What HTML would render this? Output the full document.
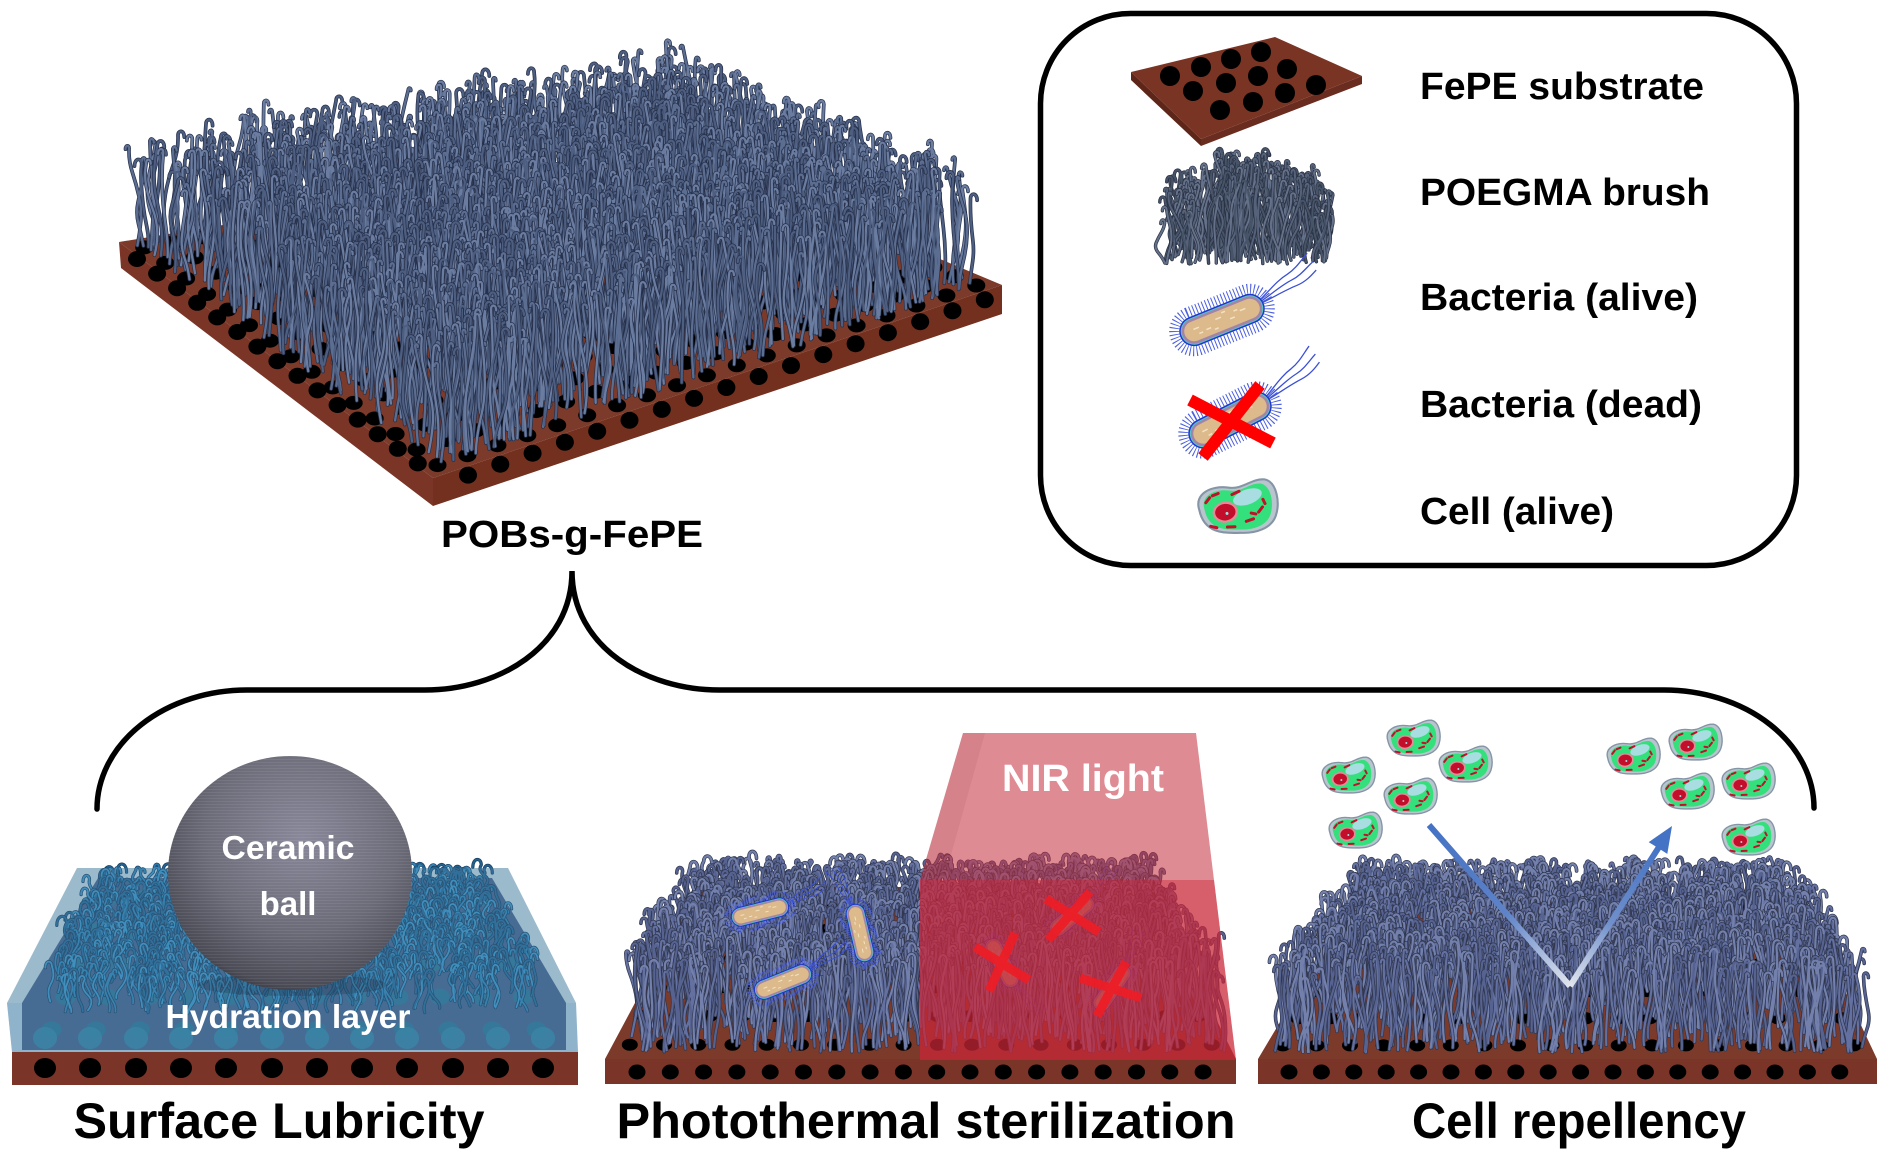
<!DOCTYPE html>
<html><head><meta charset="utf-8"><title>POBs-g-FePE</title>
<style>
html,body{margin:0;padding:0;background:#fff;width:1883px;height:1156px;overflow:hidden;}
svg{display:block;}
.t{font-family:"Liberation Sans",Arial,sans-serif;font-weight:bold;}
</style></head><body>
<svg id="S" width="1883" height="1156" viewBox="0 0 1883 1156" xmlns="http://www.w3.org/2000/svg">
<defs>
 <radialGradient id="ballG" cx="0.55" cy="0.35" r="0.72">
  <stop offset="0" stop-color="#88889a"/>
  <stop offset="0.55" stop-color="#6c6c79"/>
  <stop offset="0.88" stop-color="#4c4c57"/>
  <stop offset="1" stop-color="#26262d"/>
 </radialGradient>
 <pattern id="streak" width="9" height="3" patternUnits="userSpaceOnUse">
  <rect x="0" y="0" width="9" height="1" fill="#ffffff" opacity="0.07"/>
 </pattern>
 <linearGradient id="arL" gradientUnits="userSpaceOnUse" x1="1429" y1="825" x2="1570" y2="986">
  <stop offset="0" stop-color="#4472c4"/><stop offset="0.55" stop-color="#5e83c8"/><stop offset="1" stop-color="#e2e6ee"/>
 </linearGradient>
 <linearGradient id="arR" gradientUnits="userSpaceOnUse" x1="1570" y1="986" x2="1660" y2="846">
  <stop offset="0" stop-color="#e2e6ee"/><stop offset="0.45" stop-color="#7090cb"/><stop offset="1" stop-color="#4472c4"/>
 </linearGradient>
 <g id="bac">
  <path d="M44,-5 C56,-10 66,-16 78,-18 C88,-20 96,-26 104,-30 M44,-3 C58,-6 68,-10 80,-11 C90,-12 98,-17 106,-20 M44,-1 C58,-2 70,-4 82,-4 C92,-4 100,-8 106,-11" fill="none" stroke="#3a4fd6" stroke-width="1.3"/>
  <rect x="-50" y="-20" width="100" height="40" rx="20" fill="none" stroke="#4b5fe0" stroke-width="10" stroke-dasharray="1 2.4"/>
  <rect x="-45" y="-15" width="90" height="30" rx="15" fill="#1d38c9"/>
  <rect x="-43.5" y="-13.5" width="87" height="27" rx="13.5" fill="#56c6c6"/>
  <rect x="-42.5" y="-12.5" width="85" height="25" rx="12.5" fill="#a184a8"/>
  <rect x="-40" y="-10" width="80" height="20" rx="10" fill="#dcba8c"/>
  <path d="M-30,-2 h6 M-18,3 h5 M-6,-3 h6 M8,2 h5 M20,-2 h6 M-26,4 h4 M14,-4 h4 M-10,6 h4 M2,-7 h4" stroke="#f3e2c2" stroke-width="1.5"/>
 </g>
 <g id="cell">
  <path d="M-25,-3 C-27,-14 -15,-18 -4,-15 C6,-12 12,-19 21,-17 C29,-14 29,0 25,8 C21,16 10,18 0,16 C-11,15 -24,13 -25,-3Z" fill="#b9c5ce" stroke="#8595a6" stroke-width="1.4"/>
  <path d="M-25,-3 C-27,-14 -15,-18 -4,-15 C6,-12 12,-19 21,-17 C29,-14 29,0 25,8 C21,16 10,18 0,16 C-11,15 -24,13 -25,-3Z" transform="scale(0.86)" fill="#34e07c"/>
  <ellipse cx="8" cy="-7" rx="10" ry="5" fill="#a8dde2" transform="rotate(-12 8 -7)"/>
  <ellipse cx="-8" cy="1" rx="8.5" ry="7" fill="#e48a99"/>
  <ellipse cx="-8" cy="1" rx="6.8" ry="5.5" fill="#c20e2b"/>
  <circle cx="-7" cy="2" r="1" fill="#9adfe6"/>
  <path d="M-19,9 l4,1.5 M-8,11 l5,0.5 M5,9 l5,-1 M14,4 l3,-3 M18,-4 l1,3 M-20,-7 l3,-3 M-2,-10 l5,-1.5 M9,4 l3,1 M-15,-11 l4,-1" stroke="#c0102a" stroke-width="2" stroke-linecap="round" fill="none"/>
 </g>
</defs>

<!-- ============ TOP 3D SUBSTRATE ============ -->
<polygon points="119,242 680,150 1002,285 433,478" fill="#7b3a2a"/>
<polygon points="119,242 433,478 433,506 121,268" fill="#7a3527"/>
<polygon points="433,478 1002,285 1002,314 433,506" fill="#73301f"/>
<g id="topDots"></g>
<polygon class="fb" points="121,250 121,145 300,113 500,80 640,48 800,100 1002,168 1002,285 433,470" fill="#56678a"/>
<g id="topBrush"></g>

<text class="t" x="572" y="547" font-size="38" text-anchor="middle" textLength="262" lengthAdjust="spacingAndGlyphs" fill="#000">POBs-g-FePE</text>

<!-- bracket -->
<path d="M97,809 A150,119 0 0 1 247,690 L425,690 C497,690 572,648 572,571 C572,648 647,690 719,690 L1664,690 A150,118 0 0 1 1814,808" fill="none" stroke="#000" stroke-width="5.5" stroke-linecap="round"/>

<!-- ============ LEGEND ============ -->
<rect x="1040.5" y="13.5" width="756" height="552" rx="90" ry="90" fill="none" stroke="#000" stroke-width="5.5"/>
<polygon points="1131,72 1201,139 1201,146 1131,80" fill="#5e2519"/>
<polygon points="1201,139 1362,76 1362,84 1201,146" fill="#6a2c1f"/>
<polygon points="1131,72 1275,37 1362,76 1201,139" fill="#7a3424"/>
<g fill="#000">
 <circle cx="1170" cy="76" r="10"/><circle cx="1201" cy="67" r="10"/><circle cx="1231" cy="59" r="10"/><circle cx="1261" cy="52" r="10"/>
 <circle cx="1193" cy="91" r="10"/><circle cx="1226" cy="83" r="10"/><circle cx="1258" cy="76" r="10"/><circle cx="1287" cy="69" r="10"/>
 <circle cx="1220" cy="110" r="10"/><circle cx="1253" cy="102" r="10"/><circle cx="1285" cy="93" r="10"/><circle cx="1316" cy="85" r="10"/>
</g>
<polygon class="fb" points="1165,262 1168,180 1230,156 1300,160 1330,180 1330,262" fill="#4f5c72"/>
<g id="legBrush"></g>
<use href="#bac" transform="translate(1222,320) rotate(-22)"/>
<use href="#bac" transform="translate(1230,420) rotate(-27)"/>
<path d="M1190,400 L1273,443 M1260,385 L1203,457" stroke="#ff0000" stroke-width="12" fill="none"/>
<use href="#cell" transform="translate(1237,509) scale(1.5) rotate(-8)"/>

<text class="t" x="1420" y="99" font-size="38" textLength="284" lengthAdjust="spacingAndGlyphs">FePE substrate</text>
<text class="t" x="1420" y="205" font-size="38" textLength="290" lengthAdjust="spacingAndGlyphs">POEGMA brush</text>
<text class="t" x="1420" y="310" font-size="38" textLength="278" lengthAdjust="spacingAndGlyphs">Bacteria (alive)</text>
<text class="t" x="1420" y="417" font-size="38" textLength="282" lengthAdjust="spacingAndGlyphs">Bacteria (dead)</text>
<text class="t" x="1420" y="524" font-size="38" textLength="194" lengthAdjust="spacingAndGlyphs">Cell (alive)</text>

<!-- ============ PANEL 1: SURFACE LUBRICITY ============ -->
<polygon points="77,868 508,868 576,1003 7,1003" fill="#a7c0ce"/>
<polygon points="7,1003 576,1003 578,1052 12,1052" fill="#98b6ca"/>
<polygon points="98,878 492,878 566,1003 566,1050 22,1050 22,1003" fill="#3e5d86"/>
<g id="waterDots"></g>
<g fill="#2f7a9c" opacity="0.9">
 <ellipse cx="45" cy="1038" rx="12" ry="11"/><ellipse cx="90" cy="1038" rx="12" ry="11"/><ellipse cx="136" cy="1038" rx="12" ry="11"/><ellipse cx="181" cy="1038" rx="12" ry="11"/>
 <ellipse cx="226" cy="1038" rx="12" ry="11"/><ellipse cx="272" cy="1038" rx="12" ry="11"/><ellipse cx="317" cy="1038" rx="12" ry="11"/><ellipse cx="362" cy="1038" rx="12" ry="11"/>
 <ellipse cx="407" cy="1038" rx="12" ry="11"/><ellipse cx="453" cy="1038" rx="12" ry="11"/><ellipse cx="498" cy="1038" rx="12" ry="11"/><ellipse cx="543" cy="1038" rx="12" ry="11"/>
</g>
<polygon class="fb" points="98,878 492,878 566,1003 566,1030 22,1030 22,1003" fill="#2f6690"/>
<g id="waterBrush"></g>
<polygon points="77,868 508,868 576,1003 578,1052 12,1052 7,1003" fill="#6eaacd" opacity="0.2"/>
<rect x="12" y="1052" width="566" height="33" fill="#7a3428"/>
<g fill="#000">
 <ellipse cx="45" cy="1068" rx="11" ry="10"/><ellipse cx="90" cy="1068" rx="11" ry="10"/><ellipse cx="136" cy="1068" rx="11" ry="10"/><ellipse cx="181" cy="1068" rx="11" ry="10"/>
 <ellipse cx="226" cy="1068" rx="11" ry="10"/><ellipse cx="272" cy="1068" rx="11" ry="10"/><ellipse cx="317" cy="1068" rx="11" ry="10"/><ellipse cx="362" cy="1068" rx="11" ry="10"/>
 <ellipse cx="407" cy="1068" rx="11" ry="10"/><ellipse cx="453" cy="1068" rx="11" ry="10"/><ellipse cx="498" cy="1068" rx="11" ry="10"/><ellipse cx="543" cy="1068" rx="11" ry="10"/>
</g>
<ellipse cx="292" cy="985" rx="95" ry="11" fill="#1a2a40" opacity="0.25"/>
<ellipse cx="290" cy="873" rx="122" ry="117" fill="url(#ballG)"/>
<ellipse cx="290" cy="873" rx="122" ry="117" fill="url(#streak)"/>
<text class="t" x="288" y="859" font-size="33" text-anchor="middle" textLength="133" lengthAdjust="spacingAndGlyphs" fill="#fff">Ceramic</text>
<text class="t" x="288" y="915" font-size="33" text-anchor="middle" fill="#fff">ball</text>
<text class="t" x="288" y="1028" font-size="33" text-anchor="middle" textLength="245" lengthAdjust="spacingAndGlyphs" fill="#fff">Hydration layer</text>

<!-- ============ PANEL 2: PHOTOTHERMAL ============ -->
<polygon points="697,887 1150,887 1236,1059 605,1059" fill="#7b3a2a"/>
<g id="p2Dots"></g>
<rect x="605" y="1059" width="631" height="25" fill="#7a3428"/>
<g id="p2Strip"></g>
<polygon class="fb" points="606,1058 684,860 1170,856 1236,1058" fill="#5e6a92"/>
<g id="p2Brush"></g>
<use href="#bac" transform="translate(760,912) rotate(-14) scale(0.66)"/>
<use href="#bac" transform="translate(860,933) rotate(-103) scale(0.66)"/>
<use href="#bac" transform="translate(783,982) rotate(-22) scale(0.68)"/>
<g opacity="0.75">
 <use href="#bac" transform="translate(1002,963) rotate(62) scale(0.6)"/>
 <use href="#bac" transform="translate(1072,916) rotate(-40) scale(0.6)"/>
 <use href="#bac" transform="translate(1112,988) rotate(-55) scale(0.6)"/>
</g>
<polygon points="920,880 1214,880 1236,1060 920,1060" fill="#d7162d" opacity="0.42"/>
<polygon points="963,733 1196,733 1236,1060 920,1060 920,880" fill="#c42c3c" opacity="0.55"/>
<polygon points="963,733 985,733 944,880 920,880" fill="#78141e" opacity="0.08"/>
<path d="M975,947 L1029,980 M1015,933 L989,991 M1046,899 L1099,932 M1090,892 L1048,940 M1080,978 L1141,998 M1126,962 L1097,1016" stroke="#ee1c25" stroke-width="9" fill="none" opacity="0.92"/>
<text class="t" x="1002" y="791" font-size="38" textLength="162" lengthAdjust="spacingAndGlyphs" fill="#fff">NIR light</text>

<!-- ============ PANEL 3: CELL REPELLENCY ============ -->
<polygon points="1355,896 1800,896 1877,1059 1258,1059" fill="#7b3a2a"/>
<g id="p3Dots"></g>
<rect x="1258" y="1059" width="619" height="25" fill="#7a3428"/>
<g id="p3Strip"></g>
<polygon class="fb" points="1260,1059 1328,866 1810,863 1877,1059" fill="#5e6a92"/>
<g id="p3Brush"></g>
<use href="#cell" transform="translate(1413,740) rotate(-8)"/>
<use href="#cell" transform="translate(1348,777) rotate(-8)"/>
<use href="#cell" transform="translate(1465,766) rotate(-8)"/>
<use href="#cell" transform="translate(1410,798) rotate(-8)"/>
<use href="#cell" transform="translate(1355,832) rotate(-8)"/>
<use href="#cell" transform="translate(1633,758) rotate(-8)"/>
<use href="#cell" transform="translate(1695,744) rotate(-8)"/>
<use href="#cell" transform="translate(1687,793) rotate(-8)"/>
<use href="#cell" transform="translate(1748,783) rotate(-8)"/>
<use href="#cell" transform="translate(1748,839) rotate(-8)"/>
<line x1="1429" y1="825" x2="1570" y2="986" stroke="url(#arL)" stroke-width="6"/>
<line x1="1570" y1="986" x2="1659" y2="847" stroke="url(#arR)" stroke-width="6"/>
<polygon points="1672,826 1667.3,853.9 1648.7,842.1" fill="#4472c4"/>

<!-- bottom labels -->
<text class="t" x="279" y="1138" font-size="50" text-anchor="middle" textLength="411" lengthAdjust="spacingAndGlyphs">Surface Lubricity</text>
<text class="t" x="926" y="1138" font-size="50" text-anchor="middle" textLength="619" lengthAdjust="spacingAndGlyphs">Photothermal sterilization</text>
<text class="t" x="1579" y="1138" font-size="50" text-anchor="middle" textLength="334" lengthAdjust="spacingAndGlyphs">Cell repellency</text>
</svg>
<script>
(function(){
var NS='http://www.w3.org/2000/svg';
function R(seed){var s=seed>>>0;return function(){s=(Math.imul(s,1664525)+1013904223)>>>0;return s/4294967296;};}
function qp(q,u,v){return [(1-u)*(1-v)*q[0][0]+u*(1-v)*q[1][0]+u*v*q[2][0]+(1-u)*v*q[3][0],(1-u)*(1-v)*q[0][1]+u*(1-v)*q[1][1]+u*v*q[2][1]+(1-u)*v*q[3][1]];}
function el(tag,a,p){var e=document.createElementNS(NS,tag);for(var k in a)e.setAttribute(k,a[k]);p.appendChild(e);return e;}
function f(n){return n.toFixed(1);}
function ell(x,y,rx,ry){return 'M'+f(x-rx)+','+f(y)+'a'+rx+','+ry+' 0 1,0 '+(2*rx)+',0a'+rx+','+ry+' 0 1,0 '+(-2*rx)+',0Z';}
function grid(gid,q,nu,nv,rx,ry,fill,op){var g=document.getElementById(gid);var d='';for(var i=0;i<nu;i++)for(var j=0;j<nv;j++){var p=qp(q,(i+.5)/nu,(j+.5)/nv);d+=ell(p[0],p[1],rx,ry);}el('path',{d:d,fill:fill||'#000',opacity:op||1},g);}
function row(gid,x0,y0,dx,dy,n,rx,ry,fill){var g=document.getElementById(gid);var d='';for(var i=0;i<n;i++){d+=ell(x0+dx*i,y0+dy*i,rx,ry);}el('path',{d:d,fill:fill||'#000'},g);}
function brush(gid,o){
 var g=document.getElementById(gid);if(!g)return;var r=R(o.seed);var arr=[];
 for(var i=0;i<o.n;i++){var u=o.u0+(o.u1-o.u0)*r(),v=o.v0+(o.v1-o.v0)*r();var p=qp(o.q,u,v);arr.push([p[0],p[1],r(),r(),r(),r(),r(),r(),u]);}
 arr.sort(function(a,b){return a[1]-b[1];});
 var B=o.bands||20,ymin=arr[0][1],ymax=arr[arr.length-1][1]+0.01;
 var hv=o.hv||0.4;
 var dk=[],cs=[];for(var b=0;b<B;b++){dk.push('');cs.push(['','','']);}
 for(var i=0;i<arr.length;i++){var s=arr[i];
  var t=(s[1]-o.yB)/(o.yF-o.yB);t=Math.max(0,Math.min(1,t));
  var h=(o.hB+(o.hF-o.hB)*t)*(1-hv/2+hv*s[2]);
  if(o.dome)h*=(1-o.dome)+o.dome*Math.sin(Math.PI*s[8]);
  var amp=o.amp*(0.4+s[3]);var ph=s[4]*6.283;var dir=s[5]<.5?-1:1;
  var x0=s[0],y0=s[1],N=4;var d='M'+f(x0)+','+f(y0);var px=[],py=[];
  for(var k=1;k<=N;k++){px.push(x0+amp*(Math.sin(ph+k*1.4)-Math.sin(ph))+o.lean*(s[7]-0.5)*h*k/N);py.push(y0-h*k/N);}
  d+='Q'+f(x0+amp*Math.cos(ph)*0.7)+','+f(y0-h/(2*N))+' '+f(px[0])+','+f(py[0]);
  for(var k=1;k<N;k++)d+='T'+f(px[k])+','+f(py[k]);
  var c=o.curl*(0.5+s[6]);
  d+='c0,'+f(-c)+' '+f(dir*c*1.1)+','+f(-c)+' '+f(dir*c*1.1)+','+f(c*0.3);
  var bi=Math.min(B-1,Math.floor((s[1]-ymin)/(ymax-ymin)*B));
  dk[bi]+=d;cs[bi][Math.min(2,Math.floor(s[6]*3))]+=d;
 }
 for(var b=0;b<B;b++){if(!dk[b])continue;
  el('path',{d:dk[b],fill:'none',stroke:o.dark,'stroke-width':o.w+1.4,'stroke-linecap':'round','stroke-linejoin':'round'},g);
  for(var c=0;c<3;c++)if(cs[b][c])el('path',{d:cs[b][c],fill:'none',stroke:o.cols[c],'stroke-width':o.w,'stroke-linecap':'round'},g);
 }
}
try{
 var qTop=[[119,242],[680,150],[1002,285],[433,478]];
 grid('topDots',qTop,19,15,9,7,'#000');
 row('topDots',137,259,20.06,14.6,15,9,8,'#000');
 (function(){var g=document.getElementById('topDots');var d='';for(var i=0;i<17;i++){var x=468+32.3*i;var y=478-(x-433)*0.3392+9;d+=ell(x,y,9,8.5);}el('path',{d:d,fill:'#000'},g);})();
 brush('topBrush',{q:qTop,n:2400,u0:.02,u1:.98,v0:.02,v1:.97,yB:150,yF:478,hB:95,hF:118,amp:3.5,curl:4.5,lean:.15,w:2.3,dark:'#26304a',cols:['#5b6d90','#6a7ca0','#4d5e80'],seed:7,bands:28});

 var q2=[[697,887],[1150,887],[1236,1059],[605,1059]];
 grid('p2Dots',q2,18,6,8,6,'#000');
 row('p2Strip',637,1072,33.3,0,18,8.5,7.5,'#000');
 brush('p2Brush',{q:q2,n:1600,u0:.01,u1:.99,v0:.02,v1:.96,yB:887,yF:1059,hB:28,hF:90,amp:3,curl:5,lean:.2,w:2.2,dark:'#30374f',cols:['#6370a0','#56628f','#7380ac'],seed:11,bands:22});

 var q3=[[1355,896],[1800,896],[1877,1059],[1258,1059]];
 grid('p3Dots',q3,18,6,8,6,'#000');
 row('p3Strip',1289,1072,32.4,0,18,8.5,7.5,'#000');
 brush('p3Brush',{q:q3,n:1600,u0:.01,u1:.99,v0:.02,v1:.96,yB:896,yF:1059,hB:33,hF:88,amp:3,curl:5,lean:.2,w:2.2,dark:'#30374f',cols:['#6370a0','#56628f','#7380ac'],seed:23,bands:22});

 var qW=[[98,882],[492,882],[566,1046],[22,1046]];
 grid('waterDots',qW,12,5,10,8,'#23708f',0.8);
 brush('waterBrush',{q:qW,n:850,u0:.01,u1:.99,v0:.02,v1:.8,yB:882,yF:1046,hB:18,hF:38,amp:3,curl:6,lean:.3,w:1.8,dark:'#1a3c5e',cols:['#2a78a8','#3488b8','#22628e'],seed:5,bands:14});

 brush('legBrush',{q:[[1172,240],[1322,236],[1330,264],[1163,264]],n:260,u0:0,u1:1,v0:0,v1:1,yB:236,yF:264,hB:76,hF:78,hv:0.5,dome:0.4,amp:3.5,curl:4,lean:.4,w:2,dark:'#2a3244',cols:['#55627a','#647189','#475468'],seed:3,bands:8});

 var fb=document.querySelectorAll('.fb');for(var i=0;i<fb.length;i++)fb[i].parentNode.removeChild(fb[i]);
}catch(e){}
})();
</script>
</body></html>
